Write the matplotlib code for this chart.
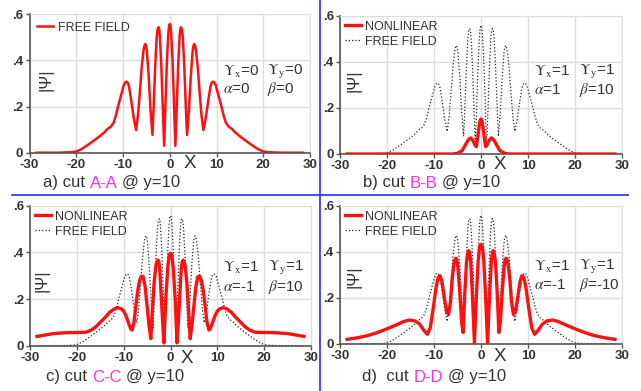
import numpy as np
import matplotlib
matplotlib.use('Agg')
import matplotlib.pyplot as plt
from matplotlib.lines import Line2D
from matplotlib.offsetbox import TextArea, HPacker, AnnotationBbox

plt.rcParams['font.family'] = ['Liberation Sans', 'DejaVu Sans']
plt.rcParams['mathtext.fontset'] = 'stix'
plt.rcParams['axes.unicode_minus'] = False

# free field |psi| along the cut (same in all panels)
ff_x = [-28.5, -24, -21, -20, -19, -18, -17, -16, -15, -14, -13.3, -12.6, -12, -11.5, -11,
        -10.4, -9.8, -9.5, -9.2, -8.9, -8.7, -8.3, -7.7, -7.2, -6.8, -6.4, -6.0, -5.6, -5.45,
        -5.25, -5.05, -4.9, -4.5, -4.1, -3.7, -3.4, -3.1, -2.8, -2.6, -2.4, -2.25, -2.1,
        -1.8, -1.5, -1.2, -0.9, -0.6, -0.3, -0.15,
        0, 0.15, 0.3, 0.6, 0.9, 1.2, 1.5, 1.8, 2.1, 2.25, 2.4, 2.6, 2.8, 3.1, 3.4, 3.7, 4.1,
        4.5, 4.9, 5.05, 5.25, 5.45, 5.6, 6.0, 6.4, 6.8, 7.2, 7.7, 8.3, 8.7, 8.9, 9.2, 9.5,
        9.8, 10.4, 11, 11.5, 12, 12.6, 13.3, 14, 15, 16, 17, 18, 19, 20, 21, 24, 28.5]
ff_y = [0, 0, 0.002, 0.005, 0.014, 0.027, 0.041, 0.056, 0.071, 0.088, 0.103, 0.113, 0.13,
        0.163, 0.205, 0.25, 0.295, 0.305, 0.308, 0.300, 0.285, 0.235, 0.15, 0.098, 0.16,
        0.26, 0.37, 0.445, 0.462, 0.471, 0.463, 0.44, 0.33, 0.18, 0.077, 0.22, 0.38, 0.5,
        0.535, 0.544, 0.535, 0.5, 0.38, 0.2, 0.03, 0.22, 0.40, 0.52, 0.55,
        0.558, 0.55, 0.52, 0.40, 0.22, 0.03, 0.2, 0.38, 0.5, 0.535, 0.544, 0.535, 0.5, 0.38,
        0.22, 0.077, 0.18, 0.33, 0.44, 0.463, 0.471, 0.462, 0.445, 0.37, 0.26, 0.16, 0.098,
        0.15, 0.235, 0.285, 0.300, 0.308, 0.305, 0.295, 0.25, 0.205, 0.163, 0.13, 0.113,
        0.103, 0.088, 0.071, 0.056, 0.041, 0.027, 0.014, 0.005, 0.002, 0, 0]

# nonlinear, cut B-B
nb_x = [-28.5, -6, -5, -4, -3.3, -2.7, -2.2, -1.7, -1.3, -1.0, -0.7, -0.4, -0.2, 0,
        0.2, 0.4, 0.7, 1.0, 1.3, 1.7, 2.2, 2.7, 3.3, 4, 5, 6, 28.5]
nb_y = [0, 0, 0.003, 0.015, 0.04, 0.062, 0.07, 0.058, 0.04, 0.032, 0.07, 0.12, 0.145, 0.152,
        0.145, 0.12, 0.07, 0.032, 0.04, 0.058, 0.07, 0.062, 0.04, 0.015, 0.003, 0, 0]

# nonlinear, cut C-C
nc_x = [-28.5, -27, -25, -22, -19, -18, -17, -16, -15, -14, -13, -12, -11.3, -10.5, -10,
        -9.5, -9.0, -8.5, -8.2, -7.8, -7.4, -7.0, -6.6, -6.2, -5.8, -5.4, -5.0, -4.6, -4.2,
        -3.9, -3.5, -3.1, -2.9, -2.7, -2.5, -2.3, -2.0, -1.7, -1.4, -1.0, -0.6, -0.3, -0.15, 0,
        0.15, 0.3, 0.6, 1.0, 1.4, 1.7, 2.0, 2.3, 2.5, 2.7, 2.9, 3.1, 3.5, 3.9, 4.2, 4.6, 5.0,
        5.4, 5.8, 6.2, 6.6, 7.0, 7.4, 7.8, 8.2, 8.5, 9.0, 9.5, 10, 10.5, 11.3, 12, 13, 14,
        15, 16, 17, 18, 19, 22, 25, 27, 28.5]
nc_y = [0.040, 0.045, 0.052, 0.056, 0.057, 0.058, 0.066, 0.08, 0.1, 0.12, 0.143, 0.158,
        0.163, 0.158, 0.148, 0.128, 0.1, 0.072, 0.067, 0.1, 0.17, 0.235, 0.28, 0.298, 0.295,
        0.25, 0.17, 0.09, 0.03, 0.14, 0.27, 0.345, 0.36, 0.367, 0.36, 0.33, 0.22, 0.11,
        0.012, 0.2, 0.33, 0.385, 0.393, 0.396,
        0.393, 0.385, 0.33, 0.2, 0.012, 0.11, 0.22, 0.33, 0.36, 0.367, 0.36, 0.345, 0.27,
        0.14, 0.03, 0.09, 0.17, 0.25, 0.295, 0.298, 0.28, 0.235, 0.17, 0.1, 0.067, 0.072,
        0.1, 0.128, 0.148, 0.158, 0.163, 0.158, 0.143, 0.12, 0.1, 0.08, 0.066, 0.058, 0.057,
        0.056, 0.052, 0.045, 0.040]

# nonlinear, cut D-D
nd_x = [-28.5, -26, -24, -22, -20, -18, -16.5, -15.3, -14, -13, -12.2, -11.4, -10.8, -10.2,
        -9.6, -9.1, -8.7, -8.3, -7.8, -7.3, -6.9, -6.5, -6.1, -5.7, -5.5, -5.3, -5.1, -4.9,
        -4.5, -4.1, -3.8, -3.5, -3.1, -2.85, -2.6, -2.4, -2.2, -1.8, -1.4, -1.0, -0.6, -0.3,
        -0.15, 0,
        0.15, 0.3, 0.6, 1.0, 1.4, 1.8, 2.2, 2.4, 2.6, 2.85, 3.1, 3.5, 3.8, 4.1, 4.5, 4.9,
        5.1, 5.3, 5.5, 5.7, 6.1, 6.5, 6.9, 7.3, 7.8, 8.3, 8.7, 9.1, 9.6, 10.2, 10.8, 11.4,
        12.2, 13, 14, 15.3, 16.5, 18, 20, 22, 24, 26, 28.5]
nd_y = [0.02, 0.028, 0.037, 0.05, 0.066, 0.083, 0.097, 0.104, 0.1, 0.085, 0.06, 0.042,
        0.07, 0.15, 0.24, 0.29, 0.296, 0.27, 0.2, 0.14, 0.128, 0.18, 0.29, 0.355, 0.368,
        0.372, 0.362, 0.33, 0.22, 0.09, 0.05, 0.2, 0.35, 0.39, 0.405, 0.395, 0.36, 0.2,
        0.005, 0.2, 0.36, 0.42, 0.43, 0.432,
        0.43, 0.42, 0.36, 0.2, 0.005, 0.2, 0.36, 0.395, 0.405, 0.39, 0.35, 0.2, 0.05, 0.09,
        0.22, 0.33, 0.362, 0.372, 0.368, 0.355, 0.29, 0.18, 0.128, 0.14, 0.2, 0.27, 0.296,
        0.29, 0.24, 0.15, 0.07, 0.042, 0.06, 0.085, 0.1, 0.104, 0.097, 0.083, 0.066, 0.05,
        0.037, 0.028, 0.02]

params = [('0', '0', '0', '0'), ('1', '1', '1', '10'), ('1', '1', '-1', '10'), ('1', '1', '-1', '-10')]
titles = [('a) cut', 'A-A'), ('b) cut', 'B-B'), ('c) cut', 'C-C'), ('d)  cut', 'D-D')]

W, H = 641, 391
RED = '#ff1010'
MAG = '#ff33dd'
TXT = '#333333'

fig = plt.figure(figsize=(W / 100, H / 100), dpi=100)


def rect(l, r, top, bot):
    # pixel box (from top-left) -> figure fraction
    return [l / W, 1 - bot / H, (r - l) / W, (bot - top) / H]


def setup(ax):
    ax.set_xlim(-30, 30)
    ax.set_ylim(0, 0.6)
    ax.set_xticks(range(-30, 31, 10))
    ax.set_yticks([0, 0.2, 0.4, 0.6])
    ax.set_yticklabels(['0', '.2', '.4', '.6'])
    ax.grid(True, color='#dddddd', lw=1.0)
    ax.set_axisbelow(True)
    for s in ['top', 'right']:
        ax.spines[s].set_color('#dddddd')
    for s in ['left', 'bottom']:
        ax.spines[s].set_color('#555555')
        ax.spines[s].set_linewidth(1.2)
    ax.tick_params(labelsize=9.5, colors='#555555', labelcolor=TXT, length=3, width=1, pad=1.5)
    for lab in ax.get_xticklabels() + ax.get_yticklabels():
        lab.set_fontweight('bold')


boxes = [rect(29.5, 310, 14.3, 152.7), rect(340, 622, 15.7, 154),
         rect(30, 311, 205.7, 345.7), rect(340, 622, 205.7, 344)]
nonlin = [None, (nb_x, nb_y), (nc_x, nc_y), (nd_x, nd_y)]
psi_pos = [(-26.5, 0.315), (-27, 0.32), (-27.5, 0.28), (-27, 0.29)]
par_y = [(0.35, 0.275), (0.355, 0.278), (0.332, 0.25), (0.335, 0.258)]
xlab = [(4.3, -0.046), (4.0, -0.046), (3.5, -0.054), (4.0, -0.055)]
title_pos = [(43, 183), (363, 183), (46, 377), (362, 377)]

for i in range(4):
    ax = fig.add_axes(boxes[i])
    setup(ax)
    if nonlin[i] is None:
        ax.plot(ff_x, ff_y, color=RED, lw=1.8, label='FREE FIELD', solid_joinstyle='round')
        ax.legend(loc='upper left', frameon=False, fontsize=9, handlelength=1.3,
                  handletextpad=0.4, borderaxespad=0.2, borderpad=0.4, labelcolor=TXT)
    else:
        nx, ny = nonlin[i]
        ax.plot(nx, ny, color=RED, lw=2.4, label='NONLINEAR', zorder=3, solid_joinstyle='round')
        ax.plot(ff_x, ff_y, color='#222222', lw=0.9, ls=':', label='FREE FIELD', zorder=2)
        ax.legend(loc='upper left', frameon=False, fontsize=9, handlelength=1.3,
                  handletextpad=0.3, borderaxespad=0.2, borderpad=0.2, labelspacing=0.25,
                  labelcolor=TXT)
    ax.text(psi_pos[i][0], psi_pos[i][1], '|Ψ|', rotation=90, fontsize=12, color=TXT,
            ha='center', va='center')
    gx, gy, a, b = params[i]
    y1, y2 = par_y[i]
    ax.text(11.3, y1, r'$\Upsilon_\mathrm{x}$=' + gx, fontsize=11, color=TXT, va='center')
    ax.text(20.8, y1, r'$\Upsilon_\mathrm{y}$=' + gy, fontsize=11, color=TXT, va='center')
    ax.text(11.3, y2, r'$\alpha$=' + a, fontsize=11, color=TXT, va='center')
    ax.text(20.8, y2, r'$\beta$=' + b, fontsize=11, color=TXT, va='center')
    ax.text(xlab[i][0], xlab[i][1], 'X', fontsize=13.5, color=TXT, ha='center', va='center',
            clip_on=False)

    t1, t2 = titles[i]
    box = HPacker(children=[TextArea(t1, textprops=dict(fontsize=12, color=TXT)),
                            TextArea(t2, textprops=dict(fontsize=12, color=MAG)),
                            TextArea('@ y=10', textprops=dict(fontsize=12, color=TXT))],
                  align='baseline', pad=0, sep=3.5)
    ab = AnnotationBbox(box, (title_pos[i][0], H - title_pos[i][1]), xycoords='figure pixels',
                        box_alignment=(0, 0.5), frameon=False, pad=0)
    fig.add_artist(ab)

# blue separators
fig.add_artist(Line2D([320 / W, 320 / W], [0, 1], transform=fig.transFigure, color='#3a3aff', lw=1.3))
fig.add_artist(Line2D([12 / W, 628 / W], [1 - 195 / H, 1 - 195 / H], transform=fig.transFigure,
                      color='#3a3aff', lw=1.3))

fig.savefig('out.png', dpi=100)
